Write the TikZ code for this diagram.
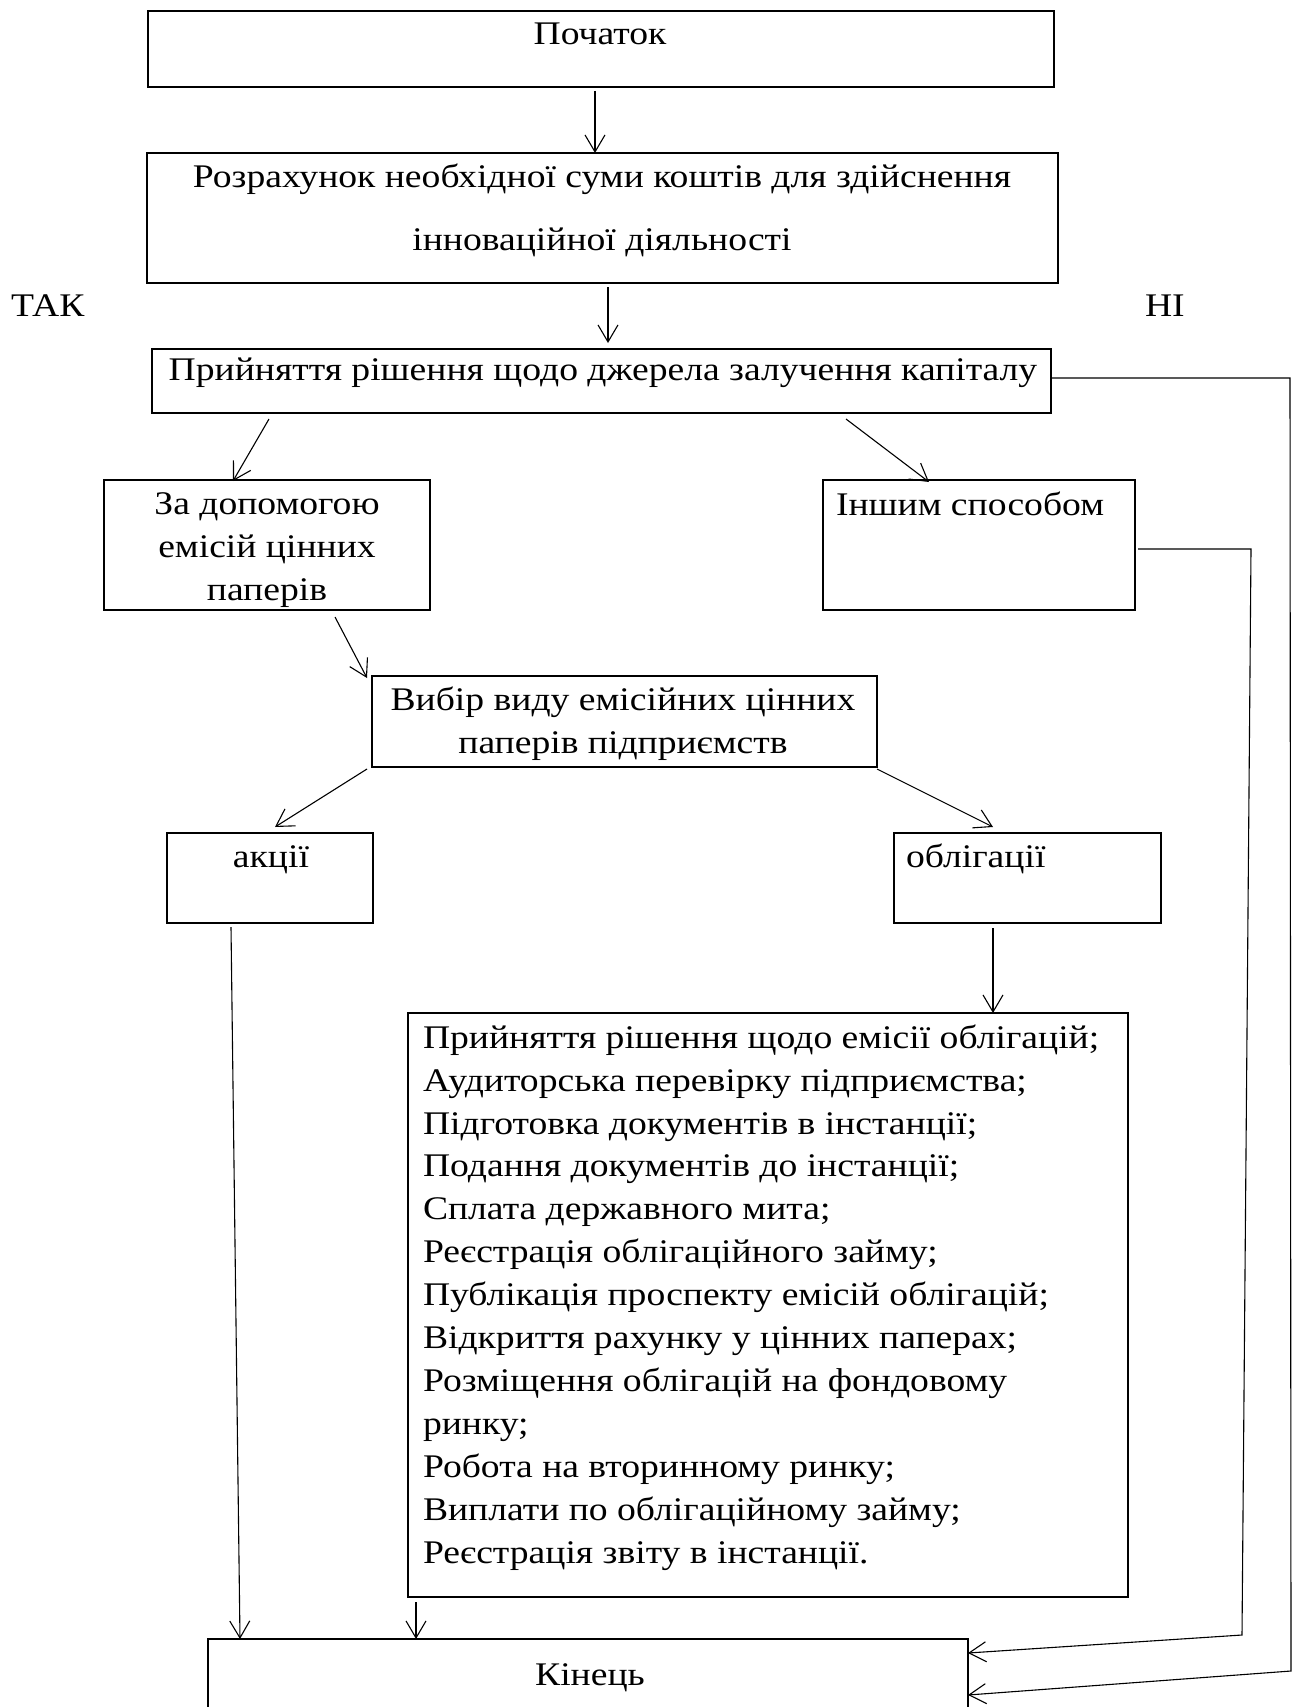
\documentclass[tikz,border=0pt]{standalone}
\usepackage{fontspec}
\setmainfont{Liberation Serif}[FakeStretch=1.14]
\usetikzlibrary{arrows.meta,calc}
\tikzset{
  box/.style={draw, line width=1.6pt, inner sep=0pt, outer sep=0pt, anchor=north west},
  conn/.style={line width=1.1pt, -{Straight Barb[length=17pt,width=20pt,line width=1.1pt]}},
  txt/.style={inner sep=0pt, outer sep=0pt, font=\fontsize{33}{42.9}\selectfont},
}
\begin{document}
\begin{tikzpicture}[x=1pt,y=-1pt]
\useasboundingbox (0,0) rectangle (1299,1707);
\clip (0,0) rectangle (1299,1707);
% boxes
\node[box, minimum width=906pt, minimum height=76pt] (start) at (148,11) {};
\node[box, minimum width=911pt, minimum height=130pt] (calc) at (147,153) {};
\node[box, minimum width=899pt, minimum height=64pt] (decide) at (152,349) {};
\node[box, minimum width=326pt, minimum height=130pt] (emis) at (104,480) {};
\node[box, minimum width=312pt, minimum height=130pt] (other) at (823,480) {};
\node[box, minimum width=505pt, minimum height=91pt] (choose) at (372,676) {};
\node[box, minimum width=206pt, minimum height=90pt] (shares) at (167,833) {};
\node[box, minimum width=267pt, minimum height=90pt] (bonds) at (894,833) {};
\node[box, minimum width=720pt, minimum height=584pt] (list) at (408,1013) {};
\node[box, minimum width=760pt, minimum height=110pt] (end) at (208,1639) {};
% texts
\node[txt, anchor=base] (tstart) at (600,45) {Початок};
\node[txt, anchor=base] (tcalc1) at (602,188) {Розрахунок необхідної суми коштів для здійснення};
\node[txt, anchor=base] (tcalc2) at (602,250) {інноваційної діяльності};
\node[txt, anchor=base west] (tyes) at (11,316) {ТАК};
\node[txt, anchor=base west] (tno) at (1145,316) {НІ};
\node[txt, anchor=base] (tdecide) at (603,380) {Прийняття рішення щодо джерела залучення капіталу};
\node[txt, anchor=base, align=center] (temis) at (267,600) {За допомогою\\емісій цінних\\паперів};
\node[txt, anchor=base west] (tother) at (836,515) {Іншим способом};
\node[txt, anchor=base, align=center] (tchoose) at (623,753) {Вибір виду емісійних цінних\\паперів підприємств};
\node[txt, anchor=base] (tshares) at (271,867) {акції};
\node[txt, anchor=base west] (tbonds) at (906,867) {облігації};
\node[txt, anchor=base west, align=left] (tlist) at (423,1563) {Прийняття рішення щодо емісії облігацій;\\
Аудиторська перевірку підприємства;\\
Підготовка документів в інстанції;\\
Подання документів до інстанції;\\
Сплата державного мита;\\
Реєстрація облігаційного займу;\\
Публікація проспекту емісій облігацій;\\
Відкриття рахунку у цінних паперах;\\
Розміщення облігацій на фондовому\\
ринку;\\
Робота на вторинному ринку;\\
Виплати по облігаційному займу;\\
Реєстрація звіту в інстанції.};
\node[txt, anchor=base] (tend) at (590,1685) {Кінець};
% connectors
\draw[conn] ($(start.south west)+(447,4)$) -- ($(calc.north west)+(448,0)$);
\draw[conn] ($(calc.south west)+(461,4)$) -- ($(decide.north west)+(456,-6)$);
\draw[conn] ($(decide.south west)+(117,6)$) -- ($(emis.north west)+(129,1)$);
\draw[conn] ($(decide.south west)+(694,6)$) -- ($(other.north west)+(106,2)$);
\draw[conn] ($(emis.south west)+(231,7)$) -- ($(choose.north west)+(-5,2)$);
\draw[conn] ($(choose.south west)+(-5,2)$) -- ($(shares.north west)+(108,-6)$);
\draw[conn] ($(choose.south east)+(0,2)$) -- ($(bonds.north west)+(99,-6)$);
\draw[conn] ($(shares.south west)+(64,4)$) -- ($(end.north west)+(32,0)$);
\draw[conn] ($(bonds.south west)+(99,5)$) -- ($(list.north west)+(585,0)$);
\draw[conn] ($(list.south west)+(8,5)$) -- ($(end.north west)+(208,0)$);
\draw[conn] ($(other.north east)+(3,69)$) -- (1251,549) -- (1242,1635) -- ($(end.north east)+(0,14)$);
\draw[conn] ($(decide.north east)+(0,29)$) -- (1290,378) -- (1291,1671) -- ($(end.north east)+(0,56)$);
\end{tikzpicture}
\end{document}
